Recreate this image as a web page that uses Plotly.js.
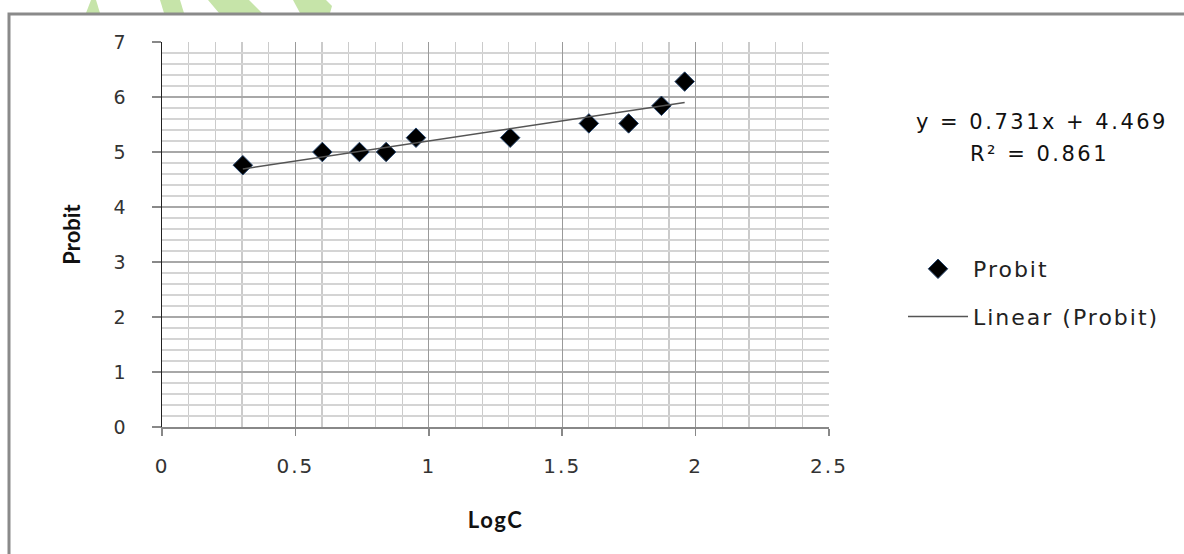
<!DOCTYPE html>
<html>
<head>
<meta charset="utf-8">
<script src="https://cdn.plot.ly/plotly-3.0.1.min.js"></script>
<style>
  html, body { margin: 0; padding: 0; background: #fff; }
  #chart { width: 1184px; height: 554px; }
  .xtick text { letter-spacing: 2px; }
  .annotation-text { letter-spacing: 2.5px; }
  .legendtext { letter-spacing: 2px; }
  .xtitle { letter-spacing: 1.5px; }
</style>
</head>
<body>
<div id="chart"></div>
<script>
// ---- data ----
const logC   = [0.303, 0.601, 0.740, 0.840, 0.952, 1.305, 1.600, 1.749, 1.872, 1.959];
const probit = [4.76, 5.00, 5.00, 5.00, 5.26, 5.26, 5.52, 5.52, 5.84, 6.28];
const trendSlope = 0.731;
const trendIntercept = 4.469;
const equationText = 'y = 0.731x + 4.469';
const r2Text = 'R² = 0.861';
const xTitle = 'LogC';
const yTitle = 'Probit';
const seriesName = 'Probit';
const trendName = 'Linear (Probit)';

// trendline endpoints over the data span
const tx = [Math.min(...logC), Math.max(...logC)];
const ty = tx.map(v => trendSlope * v + trendIntercept);

// ---- layout helpers (pixel -> paper) ----
const W = 1184, H = 554;
const M = { l: 162, r: 355, t: 42, b: 127 };
const PW = W - M.l - M.r, PH = H - M.t - M.b;
const px = x => (x - M.l) / PW;
const py = y => (H - M.b - y) / PH;
const path = pts => 'M' + pts.map(p => px(p[0]) + ',' + py(p[1])).join('L') + 'Z';

const green = '#c6e4a9';
const shapes = [
  { type: 'path', xref: 'paper', yref: 'paper', path: path([[86,13],[100,13],[96,0],[91,0]]), fillcolor: green, line: { width: 0 }, layer: 'above' },
  { type: 'path', xref: 'paper', yref: 'paper', path: path([[160,0],[180,0],[184,13],[164,13]]), fillcolor: green, line: { width: 0 }, layer: 'above' },
  { type: 'path', xref: 'paper', yref: 'paper', path: path([[208,0],[249,0],[262,13],[219,13]]), fillcolor: green, line: { width: 0 }, layer: 'above' },
  { type: 'path', xref: 'paper', yref: 'paper', path: path([[293,0],[326,0],[332,6],[330,13],[300,13]]), fillcolor: green, line: { width: 0 }, layer: 'above' },
  { type: 'rect', xref: 'paper', yref: 'paper', x0: px(9), y0: py(600), x1: px(1220), y1: py(14),
    line: { color: '#8a8a8a', width: 3 }, fillcolor: 'rgba(0,0,0,0)', layer: 'above' }
];

const traces = [
  {
    type: 'scatter', mode: 'markers', name: seriesName, x: logC, y: probit,
    legendgroup: 'a',
    marker: { symbol: 'diamond', size: 15, color: '#000', line: { color: '#27466e', width: 1 } }
  },
  {
    type: 'scatter', mode: 'lines', name: trendName, x: tx, y: ty,
    legendgroup: 'b',
    line: { color: '#555', width: 1.5 }
  }
];

const layout = {
  width: W, height: H,
  margin: M,
  paper_bgcolor: '#fff', plot_bgcolor: '#fff',
  showlegend: true,
  legend: {
    x: px(903), y: py(248), xanchor: 'left', yanchor: 'top',
    font: { family: 'DejaVu Sans', size: 22, color: '#222' },
    itemwidth: 60, tracegroupgap: 16, bgcolor: 'rgba(0,0,0,0)'
  },
  xaxis: {
    range: [0, 2.5], dtick: 0.5, tick0: 0, autorange: false,
    showline: true, linecolor: '#888', linewidth: 1.5,
    ticks: 'outside', ticklen: 7, tickcolor: '#888', tickwidth: 1.5,
    ticklabelstandoff: 13,
    showgrid: true, gridcolor: '#9a9a9a', gridwidth: 1.2,
    minor: { dtick: 0.1, showgrid: true, gridcolor: '#cbcbcb', gridwidth: 1.2 },
    zeroline: false,
    tickfont: { family: 'DejaVu Sans', size: 20, color: '#333' },
    title: { text: xTitle, font: { family: 'Lato', size: 22, color: '#111', weight: 'bold' }, standoff: 36 }
  },
  yaxis: {
    range: [0, 7], dtick: 1, tick0: 0, autorange: false,
    showline: true, linecolor: '#222', linewidth: 1.5,
    ticks: 'outside', ticklen: 9, tickcolor: '#888', tickwidth: 1.5,
    ticklabelstandoff: 22,
    showgrid: true, gridcolor: '#a8a8a8', gridwidth: 1.2,
    minor: { dtick: 0.2, showgrid: true, gridcolor: '#d4d4d4', gridwidth: 1.2 },
    zeroline: false,
    tickfont: { family: 'DejaVu Sans', size: 19, color: '#333' },
    title: { text: yTitle, font: { family: 'Lato', size: 22, color: '#111', weight: 'bold' }, standoff: 27 }
  },
  annotations: [
    { xref: 'paper', yref: 'paper', x: px(1042), y: py(122), xanchor: 'center', yanchor: 'middle',
      text: equationText, showarrow: false, font: { family: 'DejaVu Sans', size: 21, color: '#111' } },
    { xref: 'paper', yref: 'paper', x: px(1039), y: py(154), xanchor: 'center', yanchor: 'middle',
      text: r2Text, showarrow: false, font: { family: 'DejaVu Sans', size: 21, color: '#111' } }
  ],
  shapes: shapes
};

Plotly.newPlot('chart', traces, layout, { displayModeBar: false, staticPlot: true });
</script>
</body>
</html>
